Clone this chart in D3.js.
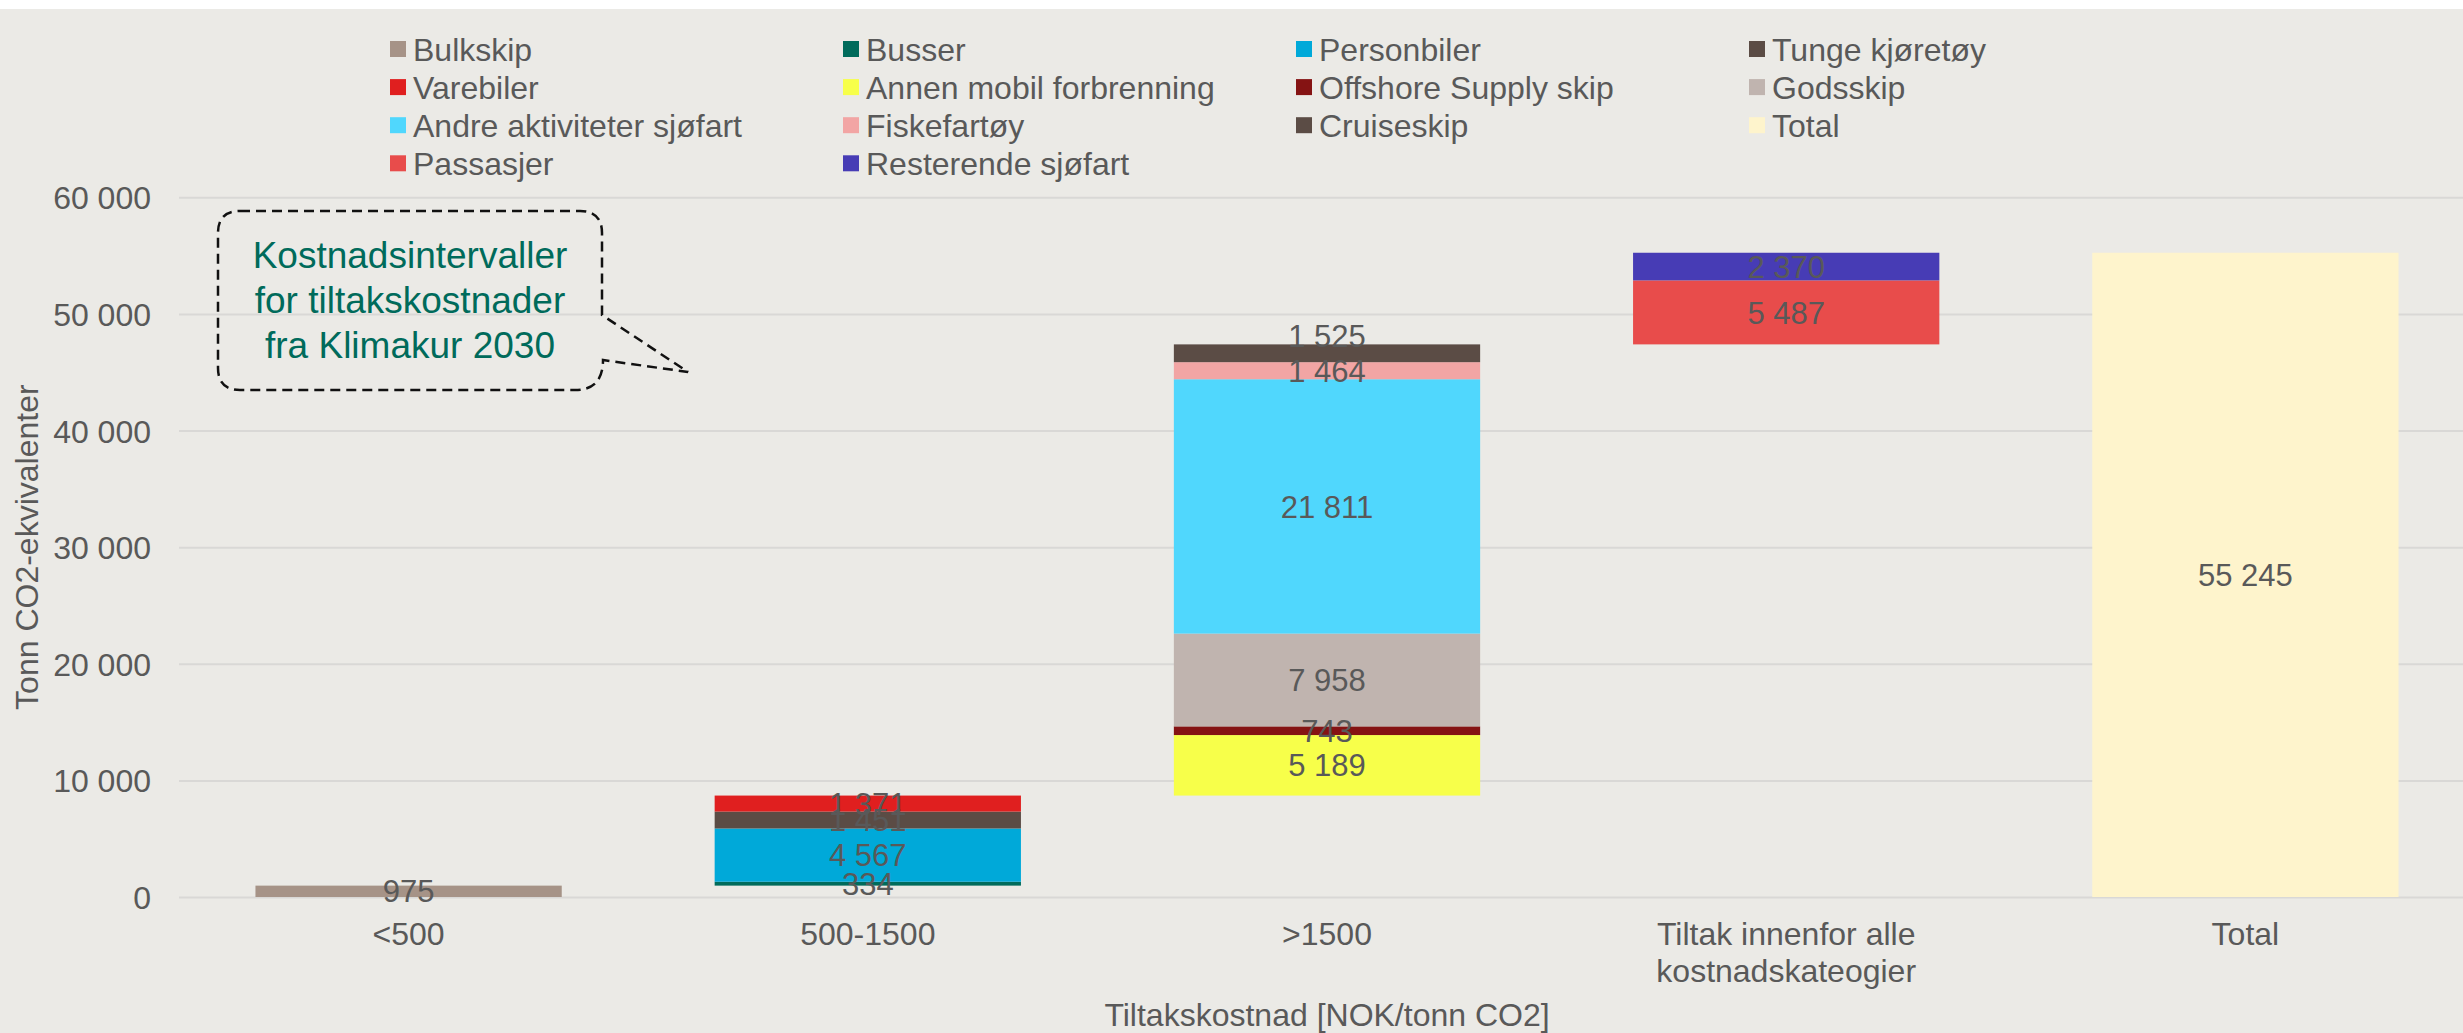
<!DOCTYPE html>
<html>
<head>
<meta charset="utf-8">
<script src="https://cdn.jsdelivr.net/npm/d3@7"></script>
<style>
  body { margin: 0; background: #ffffff; }
  svg { display: block; font-family: "Liberation Sans", Arial, sans-serif; }
</style>
</head>
<body>
<div id="chart"></div>
<script>
// categories on the x axis
const categories = ["<500", "500-1500", ">1500", "Tiltak innenfor alle kostnadskateogier", "Total"];

// series, in legend order (this is also the stacking order, bottom to top)
const seriesNames = [
    "Bulkskip", "Busser", "Personbiler", "Tunge kjøretøy",
    "Varebiler", "Annen mobil forbrenning", "Offshore Supply skip", "Godsskip",
    "Andre aktiviteter sjøfart", "Fiskefartøy", "Cruiseskip", "Total",
    "Passasjer", "Resterende sjøfart"
];
const seriesCategory = [
    "<500", "500-1500", "500-1500", "500-1500",
    "500-1500", ">1500", ">1500", ">1500",
    ">1500", ">1500", ">1500", "Total",
    "Tiltak innenfor alle kostnadskateogier", "Tiltak innenfor alle kostnadskateogier"
];
const seriesValues = [
    975, 334, 4567, 1451,
    1371, 5189, 743, 7958,
    21811, 1464, 1525, 55245,
    5487, 2370
];
const seriesColors = [
    "#a69387", "#006b5b", "#00a9d9", "#5b4c45",
    "#e01f1f", "#f7ff4a", "#851313", "#c0b4af",
    "#50d7fd", "#f2a5a4", "#5b4c45", "#fef4cc",
    "#e84c4b", "#473cb5"
];
const yTicks = [0, 10000, 20000, 30000, 40000, 50000, 60000];
const calloutLines = ["Kostnadsintervaller", "for tiltakskostnader", "fra Klimakur 2030"];

const W = 2463, H = 1033;
const textColor = "#595959";
// the Cruiseskip label sits a bit above its segment in the original
const labelNudge = { "Cruiseskip": -17 };

const svg = d3.select("#chart").append("svg")
    .attr("width", W)
    .attr("height", H);

// background (thin white strip on top like the original export)
svg.append("rect").attr("x", 0).attr("y", 9).attr("width", W).attr("height", H - 9).attr("fill", "#ebeae6");

const x = d3.scaleBand().domain(categories).range([179, 2475]).paddingInner(0.333).paddingOuter(0.1665);
const y = d3.scaleLinear().domain([0, 60000]).range([897, 197.3]);

const fmt = d3.formatLocale({ decimal: ",", thousands: "\u00a0", grouping: [3], currency: ["", ""] }).format(",d");

// y axis + gridlines
const yAxis = svg.append("g")
    .attr("transform", "translate(179,0)")
    .call(d3.axisLeft(y).tickValues(yTicks).tickSize(-(2475 - 179)).tickPadding(28).tickFormat(fmt));
yAxis.select(".domain").remove();
yAxis.selectAll(".tick line").attr("stroke", "#d9d8d6").attr("stroke-width", 2);
yAxis.selectAll(".tick text")
    .attr("fill", textColor)
    .style("font-size", "32px")
    .attr("dy", "0.36em");

// waterfall: each category floats on the running total, Total starts at 0
const segments = [];
let running = 0;
categories.forEach(cat => {
    let base = cat === "Total" ? 0 : running;
    seriesNames.forEach((name, i) => {
        if (seriesCategory[i] !== cat) return;
        segments.push({ name, cat, y0: base, y1: base + seriesValues[i], value: seriesValues[i], color: seriesColors[i] });
        base += seriesValues[i];
    });
    if (cat !== "Total") running = base;
});

svg.append("g").selectAll("rect")
    .data(segments)
    .join("rect")
    .attr("x", d => x(d.cat))
    .attr("width", x.bandwidth())
    .attr("y", d => y(d.y1))
    .attr("height", d => y(d.y0) - y(d.y1))
    .attr("fill", d => d.color);

svg.append("g").selectAll("text")
    .data(segments)
    .join("text")
    .attr("x", d => x(d.cat) + x.bandwidth() / 2)
    .attr("y", d => y((d.y0 + d.y1) / 2) + (labelNudge[d.name] || 0))
    .attr("dy", "0.36em")
    .attr("text-anchor", "middle")
    .attr("fill", textColor)
    .style("font-size", "31px")
    .text(d => fmt(d.value));

// x axis labels
const xAxis = svg.append("g")
    .attr("transform", "translate(0,897)")
    .call(d3.axisBottom(x).tickSize(0));
xAxis.select(".domain").remove();
xAxis.selectAll(".tick text")
    .attr("fill", textColor)
    .style("font-size", "32px")
    .attr("y", 48)
    .attr("dy", 0)
    .each(function(label) {
        const t = d3.select(this);
        const words = label.split(" ");
        t.text(null);
        let line = [];
        let tspan = t.append("tspan").attr("x", 0).attr("y", 48);
        let lineNo = 0;
        words.forEach(w => {
            line.push(w);
            tspan.text(line.join(" "));
            if (tspan.node().getComputedTextLength() > x.bandwidth() && line.length > 1) {
                line.pop();
                tspan.text(line.join(" "));
                line = [w];
                lineNo++;
                tspan = t.append("tspan").attr("x", 0).attr("y", 48 + lineNo * 37).text(w);
            }
        });
    });

// axis titles
svg.append("text")
    .attr("x", (x.range()[0] + x.range()[1]) / 2)
    .attr("y", 1026)
    .attr("text-anchor", "middle")
    .attr("fill", textColor)
    .style("font-size", "32px")
    .text("Tiltakskostnad [NOK/tonn CO2]");

svg.append("text")
    .attr("transform", `translate(38,${(y(0) + y(60000)) / 2}) rotate(-90)`)
    .attr("text-anchor", "middle")
    .attr("fill", textColor)
    .style("font-size", "32px")
    .text("Tonn CO2-ekvivalenter");

// legend, 4 columns
const legend = svg.append("g");
seriesNames.forEach((name, i) => {
    const col = i % 4, row = Math.floor(i / 4);
    const g = legend.append("g").attr("transform", `translate(${390 + col * 453},${49 + row * 38.1})`);
    g.append("rect").attr("x", 0).attr("y", -8).attr("width", 16).attr("height", 16).attr("fill", seriesColors[i]);
    g.append("text").attr("x", 23).attr("dy", "0.36em")
        .attr("fill", textColor)
        .style("font-size", "32px")
        .text(name);
});

// callout
const callout = svg.append("g");
callout.append("path")
    .attr("d", "M 240 211 H 580 Q 602 211 602 233 V 315 L 688 372 L 603 360 Q 603 390 575 390 H 240 Q 218 390 218 368 V 233 Q 218 211 240 211 Z")
    .attr("fill", "none")
    .attr("stroke", "#111")
    .attr("stroke-width", 2.5)
    .attr("stroke-dasharray", "10 6");
callout.selectAll("text")
    .data(calloutLines)
    .join("text")
    .attr("x", 410)
    .attr("y", (d, i) => 268 + i * 45)
    .attr("text-anchor", "middle")
    .attr("fill", "#006b5b")
    .style("font-size", "37px")
    .text(d => d);
</script>
</body>
</html>
